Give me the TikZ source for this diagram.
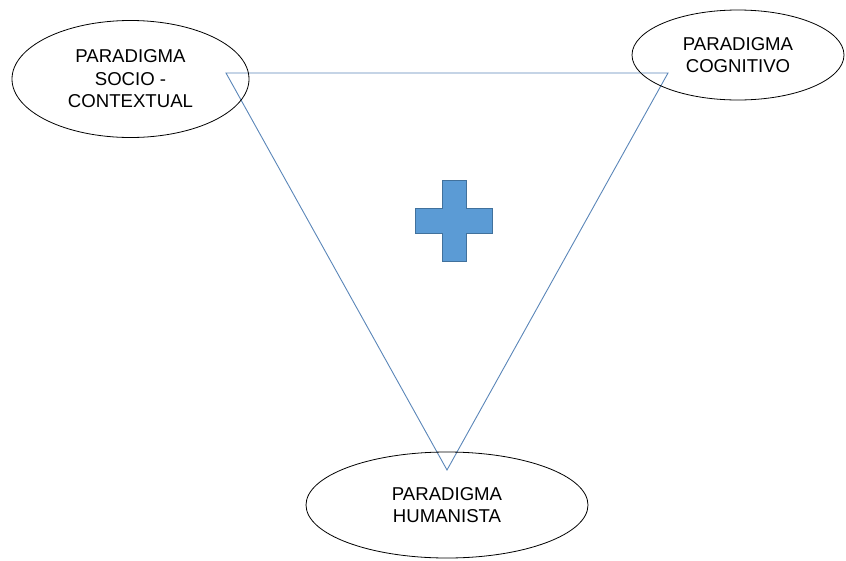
\documentclass[tikz,border=0pt]{standalone}
\usepackage{fontspec}
\setmainfont{Liberation Sans}
\usetikzlibrary{shapes.geometric}
\definecolor{triline}{HTML}{5A86B8}
\definecolor{crossfill}{HTML}{5B9BD5}
\definecolor{crossdraw}{HTML}{41719C}
\begin{document}
\begin{tikzpicture}[x=1pt,y=-1pt,
  paradigm/.style={ellipse,draw=black,line width=0.8pt,inner sep=0pt,align=center,
    font=\fontsize{18.6}{22.5}\selectfont},
  triedge/.style={draw=triline,line width=0.9pt,line join=miter}]
\useasboundingbox (0,0) rectangle (846,560);
% triangle
\coordinate (tl) at (226,73);
\coordinate (tr) at (668,73);
\coordinate (bt) at (447,470);
\draw[triedge] (tl) -- (tr) -- (bt) -- cycle;
% ellipses
\node[paradigm,minimum width=237pt,minimum height=117pt] (socio) at (130.5,79) {PARADIGMA\\SOCIO -\\CONTEXTUAL};
\node[paradigm,minimum width=212pt,minimum height=90pt] (cogn) at (738,55) {PARADIGMA\\COGNITIVO};
\node[paradigm,minimum width=282pt,minimum height=106pt] (human) at (447,505) {PARADIGMA\\HUMANISTA};
% cross
\draw[fill=crossfill,draw=crossdraw,line width=0.8pt]
  (442,180) -- (466,180) -- (466,208) -- (492,208) -- (492,233) -- (466,233)
  -- (466,261) -- (442,261) -- (442,233) -- (415,233) -- (415,208) -- (442,208) -- cycle;
\end{tikzpicture}
\end{document}
